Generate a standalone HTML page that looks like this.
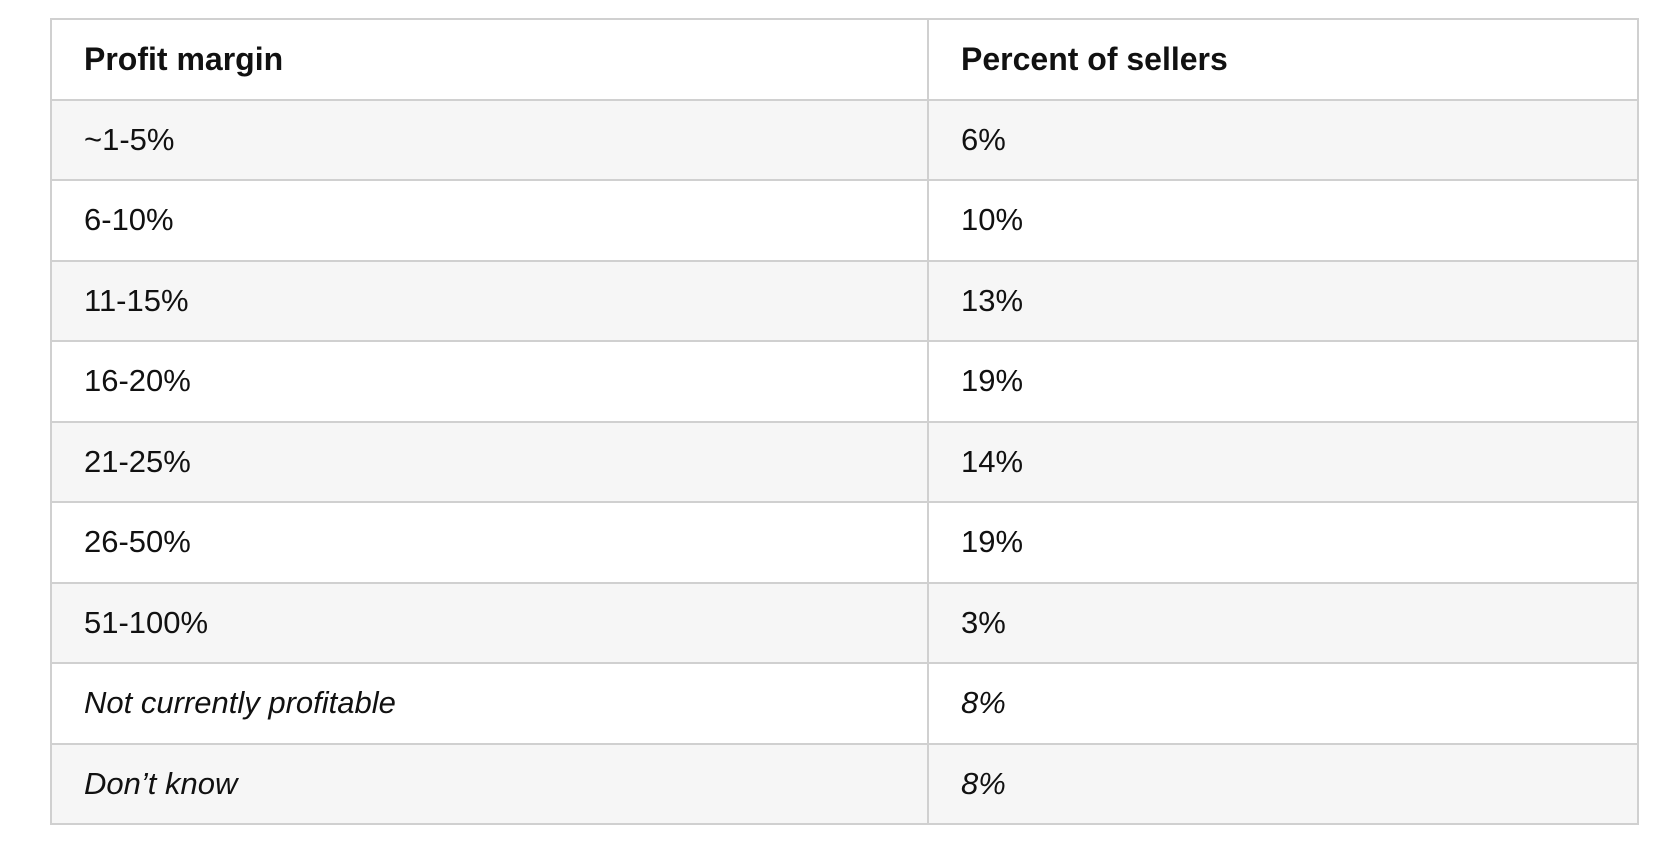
<!DOCTYPE html>
<html><head><meta charset="utf-8"><style>
html,body{margin:0;padding:0;background:#fff;width:1672px;height:848px;overflow:hidden}
table{position:absolute;left:50px;top:18px;width:1589px;border-collapse:collapse;font-family:"Liberation Sans",sans-serif;color:#111;font-size:31px;table-layout:fixed}
td,th{border:2px solid #d0d0d0;height:80.5px;padding:0 0 0 32px;text-align:left;vertical-align:middle;box-sizing:border-box}
th{font-weight:bold;font-size:32px}
col.c1{width:877px}
tr:nth-child(even) td{background:#f6f6f6}
.it{font-style:italic}
</style></head><body>
<table style="width:1589px">
<colgroup><col class="c1"><col></colgroup>
<tr><th>Profit margin</th><th>Percent of sellers</th></tr>
<tr><td>~1-5%</td><td>6%</td></tr>
<tr><td>6-10%</td><td>10%</td></tr>
<tr><td>11-15%</td><td>13%</td></tr>
<tr><td>16-20%</td><td>19%</td></tr>
<tr><td>21-25%</td><td>14%</td></tr>
<tr><td>26-50%</td><td>19%</td></tr>
<tr><td>51-100%</td><td>3%</td></tr>
<tr><td class="it">Not currently profitable</td><td class="it">8%</td></tr>
<tr><td class="it">Don’t know</td><td class="it">8%</td></tr>
</table>
</body></html>
